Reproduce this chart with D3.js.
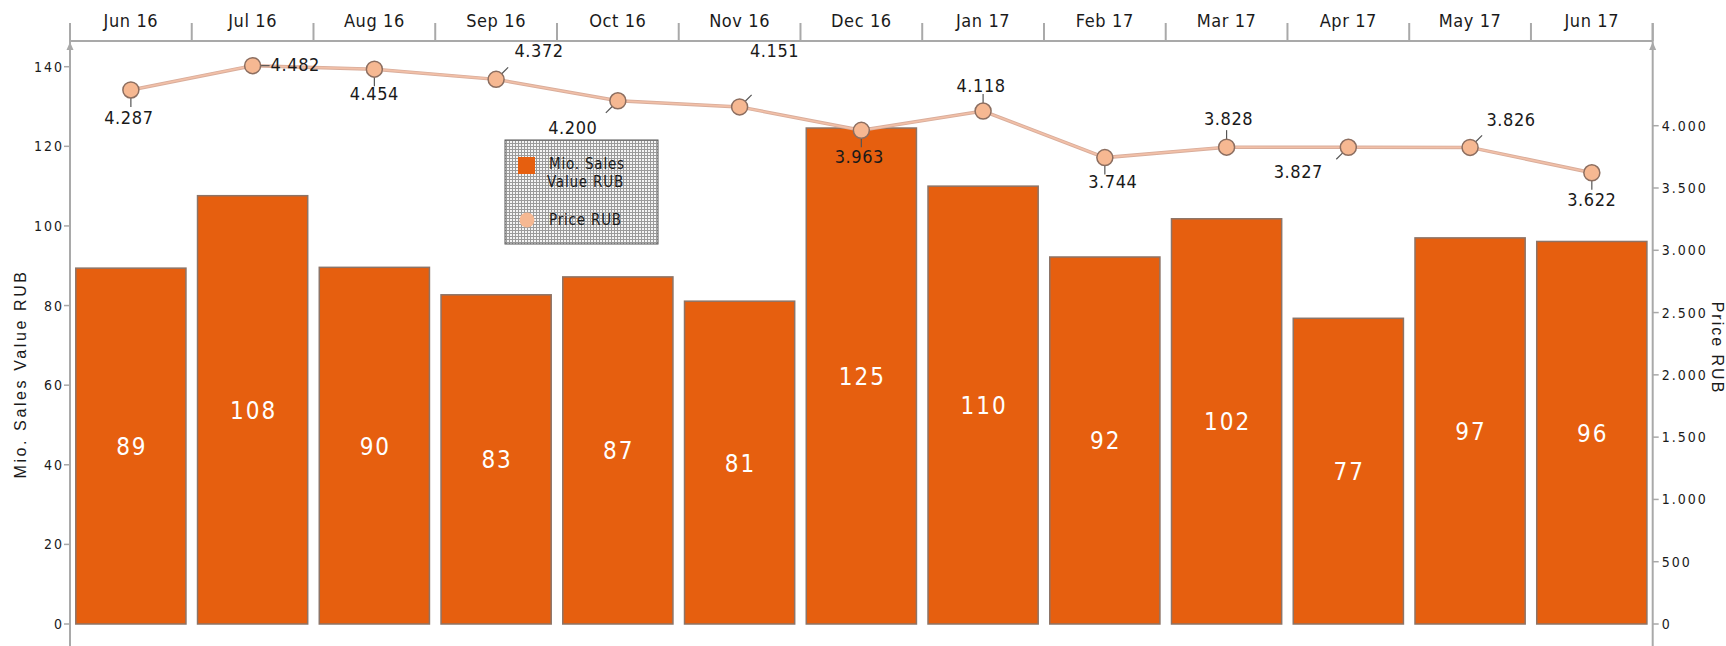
<!DOCTYPE html>
<meta charset="utf-8">
<style>
body { margin: 0; background: #fff; }
text { font-family: "Liberation Sans Narrow", "Arial Narrow", "DejaVu Sans Condensed", sans-serif; fill: #1a1a1a; }
.title { font-family: "Liberation Sans", Arial, sans-serif; }
</style>
<body>
<div id="chart"></div>
<script src="https://cdnjs.cloudflare.com/ajax/libs/d3/7.8.5/d3.min.js"></script>
<script>

// Data
var months = ["Jun 16", "Jul 16", "Aug 16", "Sep 16", "Oct 16", "Nov 16", "Dec 16",
              "Jan 17", "Feb 17", "Mar 17", "Apr 17", "May 17", "Jun 17"];
var salesValue = [89.4, 107.6, 89.6, 82.7, 87.2, 81.1, 124.6, 110.0, 92.2, 101.8, 76.8, 97.0, 96.1];
var priceRub = [4287, 4482, 4454, 4372, 4200, 4151, 3963, 4118, 3744, 3828, 3827, 3826, 3622];
var leftTicks = [0, 20, 40, 60, 80, 100, 120, 140];
var rightTicks = [0, 500, 1000, 1500, 2000, 2500, 3000, 3500, 4000];

// where each price label sits relative to its marker (dx, dy, leader angle)
var labelPlace = [
  [-2, 34, 90], [18, 5, 0], [0, 31, 90], [43, -22, -45], [-45, 33, 135],
  [35, -50, -45], [-2, 33, 90], [-2, -19, -90], [8, 30, 90], [2, -22, -90],
  [-50, 31, 135], [41, -21, -45], [0, 33, 90]
];

var width = 1726;
var height = 646;
var plotL = 70, plotR = 1652.7, plotT = 41, plotB = 624;
var axisColor = "#a9a9a9";

var svg = d3.select("#chart")
            .append("svg")
            .attr("width", width)
            .attr("height", height);

// Scales
var xScale = d3.scaleBand().domain(months).range([plotL, plotR])
               .paddingInner(0.095).paddingOuter(0.0475);
var yLeft = d3.scaleLinear().domain([0, 146.46]).range([plotB, plotT]);
var yRight = d3.scaleLinear().domain([0, 4680]).range([plotB, plotT]);

var ru = d3.formatLocale({decimal: ",", thousands: ".", grouping: [3], currency: ["", ""]});
var fmtPrice = ru.format(",.0f");

// legend dot pattern
var defs = svg.append("defs");
var pat = defs.append("pattern").attr("id", "dots")
              .attr("width", 3).attr("height", 3)
              .attr("patternUnits", "userSpaceOnUse");
pat.append("rect").attr("width", 3).attr("height", 3).attr("fill", "#9a9a9a");
pat.append("rect").attr("width", 2).attr("height", 2).attr("fill", "#f4f4f4");

// Bars
var barsG = svg.append("g");
barsG.selectAll("rect")
     .data(salesValue)
     .enter()
     .append("rect")
     .attr("x", function(d, i) { return xScale(months[i]); })
     .attr("y", function(d) { return yLeft(d); })
     .attr("width", xScale.bandwidth())
     .attr("height", function(d) { return yLeft(0) - yLeft(d); })
     .attr("fill", "#e65f0f")
     .attr("stroke", "#8d7467")
     .attr("stroke-width", 1.5);

barsG.selectAll("text")
     .data(salesValue)
     .enter()
     .append("text")
     .attr("x", function(d, i) { return xScale(months[i]) + xScale.bandwidth() / 2 + 1; })
     .attr("y", function(d) { return (yLeft(d) + yLeft(0)) / 2 + 9; })
     .attr("text-anchor", "middle")
     .attr("font-size", 24)
     .attr("letter-spacing", 2)
     .style("fill", "#fff")
     .text(function(d) { return d3.format(".0f")(d); });

// Axes lines
var axesG = svg.append("g").attr("stroke", axisColor).attr("stroke-width", 2).attr("fill", "none");
axesG.append("line").attr("x1", plotL).attr("x2", plotR).attr("y1", plotT).attr("y2", plotT);
axesG.append("line").attr("x1", plotL).attr("x2", plotL).attr("y1", 23).attr("y2", height);
axesG.append("line").attr("x1", plotR).attr("x2", plotR).attr("y1", 23).attr("y2", height);

// top category ticks at the boundaries
var bounds = months.map(function(m) { return xScale(m) - xScale.step() * xScale.paddingOuter(); });
bounds.push(plotR);
axesG.selectAll("line.bound")
     .data(bounds)
     .enter()
     .append("line")
     .attr("class", "bound")
     .attr("x1", function(d) { return d; }).attr("x2", function(d) { return d; })
     .attr("y1", 23).attr("y2", plotT);

// arrows at top of the value axes
[plotL, plotR].forEach(function(x) {
  svg.append("path")
     .attr("d", "M" + x + "," + (plotT + 1) + " L" + (x - 3.5) + "," + (plotT + 9) + " L" + (x + 3.5) + "," + (plotT + 9) + " Z")
     .attr("fill", axisColor);
});

// category labels
svg.append("g").selectAll("text")
   .data(months)
   .enter()
   .append("text")
   .attr("x", function(d) { return xScale(d) + xScale.bandwidth() / 2; })
   .attr("y", 27)
   .attr("text-anchor", "middle")
   .attr("font-size", 18)
   .attr("letter-spacing", 0.6)
   .text(function(d) { return d; });

// left ticks
var leftG = svg.append("g");
leftG.selectAll("line")
     .data(leftTicks).enter().append("line")
     .attr("x1", plotL - 6).attr("x2", plotL)
     .attr("y1", function(d) { return yLeft(d); }).attr("y2", function(d) { return yLeft(d); })
     .attr("stroke", axisColor).attr("stroke-width", 1.5);
leftG.selectAll("text")
     .data(leftTicks).enter().append("text")
     .attr("x", plotL - 6)
     .attr("y", function(d) { return yLeft(d) + 5; })
     .attr("text-anchor", "end")
     .attr("font-size", 14)
     .attr("letter-spacing", 2)
     .text(function(d) { return d; });

// right ticks
var rightG = svg.append("g");
rightG.selectAll("line")
      .data(rightTicks).enter().append("line")
      .attr("x1", plotR).attr("x2", plotR + 6)
      .attr("y1", function(d) { return yRight(d); }).attr("y2", function(d) { return yRight(d); })
      .attr("stroke", axisColor).attr("stroke-width", 1.5);
rightG.selectAll("text")
      .data(rightTicks).enter().append("text")
      .attr("x", plotR + 9)
      .attr("y", function(d) { return yRight(d) + 5; })
      .attr("font-size", 14)
      .attr("letter-spacing", 2)
      .text(function(d) { return fmtPrice(d); });

// axis titles
svg.append("text").attr("class", "title")
   .attr("transform", "translate(26,374) rotate(-90)")
   .attr("text-anchor", "middle")
   .attr("font-size", 16)
   .attr("letter-spacing", 2.6)
   .text("Mio. Sales Value RUB");
svg.append("text").attr("class", "title")
   .attr("transform", "translate(1712,348) rotate(90)")
   .attr("text-anchor", "middle")
   .attr("font-size", 16)
   .attr("letter-spacing", 2)
   .text("Price RUB");

// Price line
var cx = function(i) { return xScale(months[i]) + xScale.bandwidth() / 2; };
var line = d3.line()
             .x(function(d, i) { return cx(i); })
             .y(function(d) { return yRight(d); });
var lineG = svg.append("g");
lineG.append("path").datum(priceRub).attr("d", line)
     .attr("fill", "none").attr("stroke", "#d9ad9b").attr("stroke-width", 3.5);
lineG.append("path").datum(priceRub).attr("d", line)
     .attr("fill", "none").attr("stroke", "#f2c0a8").attr("stroke-width", 1.6);

// leaders
var r = 8;
var rad = function(i) { return labelPlace[i][2] * Math.PI / 180; };
lineG.selectAll("line")
     .data(priceRub).enter().append("line")
     .attr("x1", function(d, i) { return cx(i) + r * Math.cos(rad(i)); })
     .attr("y1", function(d, i) { return yRight(d) + r * Math.sin(rad(i)); })
     .attr("x2", function(d, i) { return cx(i) + (r + 9) * Math.cos(rad(i)); })
     .attr("y2", function(d, i) { return yRight(d) + (r + 9) * Math.sin(rad(i)); })
     .attr("stroke", "#555").attr("stroke-width", 1.2);

lineG.selectAll("circle")
     .data(priceRub).enter().append("circle")
     .attr("cx", function(d, i) { return cx(i); })
     .attr("cy", function(d) { return yRight(d); })
     .attr("r", r)
     .attr("fill", "#f6b892")
     .attr("stroke", "#8c6e60")
     .attr("stroke-width", 1.5);

lineG.selectAll("text")
     .data(priceRub).enter().append("text")
     .attr("x", function(d, i) { return cx(i) + labelPlace[i][0]; })
     .attr("y", function(d, i) { return yRight(d) + labelPlace[i][1]; })
     .attr("text-anchor", function(d, i) { return labelPlace[i][2] == 0 ? "start" : "middle"; })
     .attr("font-size", 18)
     .attr("letter-spacing", 0.6)
     .text(function(d) { return fmtPrice(d); });

// Legend
var legendG = svg.append("g");
legendG.append("rect")
       .attr("x", 505).attr("y", 140).attr("width", 153).attr("height", 104)
       .attr("fill", "url(#dots)").attr("stroke", "#555").attr("stroke-width", 1);
legendG.append("rect")
       .attr("x", 518).attr("y", 157).attr("width", 17).attr("height", 17)
       .attr("fill", "#e65f0f");
legendG.append("circle")
       .attr("cx", 527).attr("cy", 220).attr("r", 7.5)
       .attr("fill", "#f6b892");
legendG.append("text").attr("x", 549).attr("y", 169).attr("font-size", 15).attr("letter-spacing", 0.8).text("Mio. Sales");
legendG.append("text").attr("x", 547).attr("y", 187).attr("font-size", 15).attr("letter-spacing", 0.8).text("Value RUB");
legendG.append("text").attr("x", 549).attr("y", 225).attr("font-size", 15).attr("letter-spacing", 0.8).text("Price RUB");

</script>
